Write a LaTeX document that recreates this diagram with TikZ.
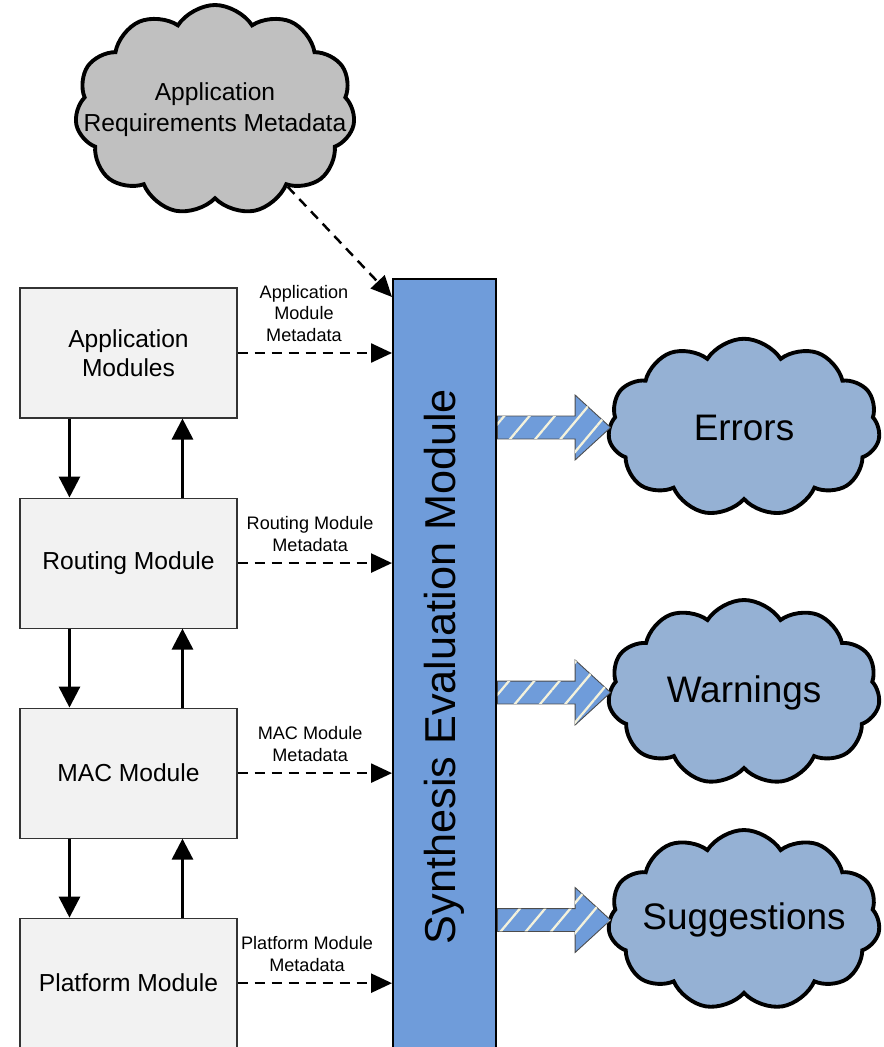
\documentclass[tikz,border=0pt]{standalone}
\usepackage{fontspec}
\setmainfont{Liberation Sans}
\usepackage{tikz}
\usetikzlibrary{positioning,shapes.symbols,shapes.arrows,arrows.meta,patterns.meta}
\definecolor{boxgray}{HTML}{F2F2F2}
\definecolor{cloudgray}{HTML}{C0C0C0}
\definecolor{cloudblue}{HTML}{95B1D4}
\definecolor{semblue}{HTML}{6F9CDA}
\definecolor{stripe}{HTML}{F4F2DC}
\newlength{\boxWidth}
\setlength{\boxWidth}{4.34cm}
\newlength{\boxHeight}
\setlength{\boxHeight}{2.6cm}
\tikzset{modblock/.style={shape=rectangle, draw=black!80, fill=boxgray, minimum width=\boxWidth, minimum height=\boxHeight, line width=0.6pt, align=center, font=\fontsize{14}{16.5}\selectfont},
  metacloud/.style={cloud, cloud puffs=11, cloud puff arc=115, cloud ignores aspect, draw, line width=2.2pt, inner sep=0pt},
  cloudtext/.style={align=center, inner sep=0pt},
  metaflow/.style={line width=1.4pt, dash pattern=on 0.2cm off 0.14cm, -{Triangle[length=0.42cm,width=0.38cm]}},
  flow/.style={line width=1.7pt, -{Triangle[length=0.42cm,width=0.42cm]}},
  metalabel/.style={font=\fontsize{10.3}{12.2}\selectfont, align=center, inner sep=1pt},
  resultarrow/.style={single arrow, draw=black!70, line width=0.5pt, inner xsep=0pt, inner ysep=0.22cm, minimum width=1.28cm, minimum height=2.26cm, single arrow head extend=0.42cm, single arrow tip angle=85, fill=semblue, postaction={pattern={Lines[angle=50,distance=11pt,line width=1.3pt]}, pattern color=stripe}}}

\begin{document}
\begin{tikzpicture}
\clip (0,0) rectangle (17.66,-20.94);
% metadata cloud
\node[metacloud, fill=cloudgray, minimum width=5.6cm, minimum height=4.2cm,
  label={[cloudtext, font=\fontsize{14}{17.5}\selectfont]center:Application\\Requirements Metadata}] (req) at (4.30,-2.20) {};

% module stack
\begin{scope}[node distance=1.58cm]
    \node[modblock] (app) at (2.57,-7.06) {Application\\Modules};
    \node[modblock, below=of app] (route) {Routing Module};
    \node[modblock, below=of route] (mac) {MAC Module};
    \node[modblock, below=of mac] (plat) {Platform Module};
\end{scope}

% evaluation block
\node[draw, line width=1.2pt, fill=semblue, minimum width=2.06cm, minimum height=15.5cm, anchor=north west, inner sep=0pt] (sem) at (7.84,-5.56) {};
\node[rotate=90, font=\fontsize{24.6}{28}\selectfont] (semtext) at (sem.center) {Synthesis Evaluation Module};

% result clouds
\node[metacloud, fill=cloudblue, minimum width=5.44cm, minimum height=3.55cm,
  label={[cloudtext, font=\fontsize{21}{25}\selectfont]center:Errors}] (err) at (14.88,-8.55) {};
\node[metacloud, fill=cloudblue, minimum width=5.44cm, minimum height=3.7cm,
  label={[cloudtext, font=\fontsize{21}{25}\selectfont]center:Warnings}] (warn) at (14.88,-13.85) {};
\node[metacloud, fill=cloudblue, minimum width=5.44cm, minimum height=3.6cm,
  label={[cloudtext, font=\fontsize{21}{25}\selectfont]center:Suggestions}] (sugg) at (14.88,-18.40) {};

% module flows
\draw[flow] ([xshift=1cm]app.south west) -- ([xshift=1cm]route.north west);
\draw[flow] ([xshift=3.26cm]route.north west) -- ([xshift=3.26cm]app.south west);
\draw[flow] ([xshift=1cm]route.south west) -- ([xshift=1cm]mac.north west);
\draw[flow] ([xshift=3.26cm]mac.north west) -- ([xshift=3.26cm]route.south west);
\draw[flow] ([xshift=1cm]mac.south west) -- ([xshift=1cm]plat.north west);
\draw[flow] ([xshift=3.26cm]plat.north west) -- ([xshift=3.26cm]mac.south west);

% metadata flows
\coordinate (reqin) at ([yshift=-0.38cm]sem.north west);
\draw[metaflow] (req) -- (reqin);
\draw[metaflow] (app.east) -- (app.east -| sem.west) node[metalabel, pos=0.43, above=5pt] {Application\\Module\\Metadata};
\draw[metaflow] (route.east) -- (route.east -| sem.west) node[metalabel, pos=0.47, above=5pt] {Routing Module\\Metadata};
\draw[metaflow] (mac.east) -- (mac.east -| sem.west) node[metalabel, pos=0.47, above=5pt] {MAC Module\\Metadata};
\draw[metaflow] (plat.east) -- (plat.east -| sem.west) node[metalabel, pos=0.45, above=5pt] {Platform Module\\Metadata};

% results
\node[resultarrow, anchor=tail] (toerr) at (sem.east |- err.center) {};
\node[resultarrow, anchor=tail] (towarn) at (sem.east |- warn.center) {};
\node[resultarrow, anchor=tail] (tosugg) at (sem.east |- sugg.center) {};
\end{tikzpicture}
\end{document}
